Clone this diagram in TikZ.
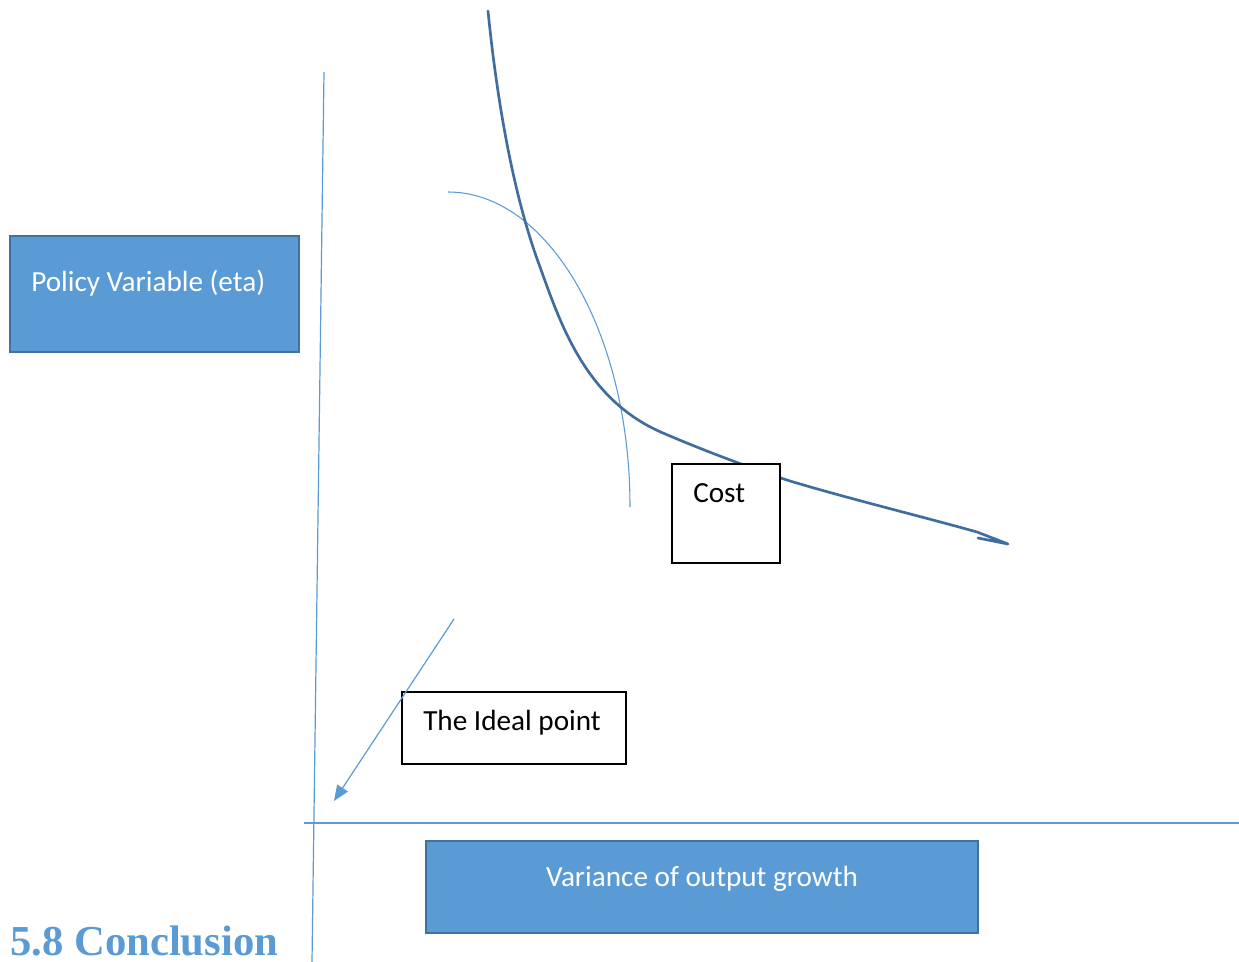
\documentclass[tikz,border=0pt]{standalone}
\usepackage{fontspec}
\setmainfont{Carlito}
\newfontfamily\headfont{Liberation Serif}
\usetikzlibrary{arrows.meta}
\definecolor{lblue}{HTML}{5B9BD5}
\definecolor{dblue}{HTML}{41719C}
\definecolor{cblue}{HTML}{3F6E9E}
\begin{document}
\begin{tikzpicture}[x=0.75pt,y=-0.75pt,
  axisline/.style={draw=lblue,line width=0.9pt},
  bluebox/.style={draw=dblue,fill=lblue,line width=1.6pt,inner sep=0pt},
  whitebox/.style={draw=black,fill=white,line width=1pt,inner sep=0pt},
  boxtext/.style={font=\fontsize{21.9}{26}\selectfont,inner sep=0pt},
  costcurve/.style={draw=cblue,line width=2pt,line cap=round,line join=round},
  thinarc/.style={draw=lblue,line width=0.8pt}]
\useasboundingbox (0,0) rectangle (1239,962);
\fill[white] (0,0) rectangle (1239,962);
% axes
\coordinate (vtop) at (324,72);
\coordinate (vbot) at (312,962);
\coordinate (hleft) at (304,823);
\coordinate (hright) at (1239,823);
\draw[axisline] (vtop) -- (vbot);
\draw[axisline] (hleft) -- (hright);
% thin elliptical arc
\coordinate (arcstart) at (448,192);
\draw[thinarc] (arcstart) arc[start angle=90,end angle=0,x radius=136.5pt,y radius=236.25pt];
% cost curve
\coordinate (c0) at (488,11);
\coordinate (c1) at (540,267);
\coordinate (c2) at (663,433);
\coordinate (c3) at (790,481);
\coordinate (c4) at (977,532);
\coordinate (c5) at (1008,544);
\coordinate (c6) at (978,538);
\draw[costcurve] (c0) .. controls (498,110) and (515,200) .. (c1)
  .. controls (560,322) and (585,400) .. (c2)
  .. controls (700,449) and (750,468) .. (c3)
  .. controls (850,499) and (920,516) .. (c4) -- (c5) -- (c6);
% boxes
\node[bluebox,minimum width=216.75pt,minimum height=87pt] (policy) at (154.5,294) {};
\node[boxtext,text=white,anchor=base west] (policytext) at (31,292) {Policy Variable (eta)};
\node[bluebox,minimum width=414pt,minimum height=69pt] (variance) at (702,887) {};
\node[boxtext,text=white,anchor=base] (variancetext) at (702,886) {Variance of output growth};
\node[whitebox,minimum width=81pt,minimum height=74.25pt] (cost) at (726,513.5) {};
\node[boxtext,anchor=base west] (costtext) at (693,503) {Cost};
\node[whitebox,minimum width=168pt,minimum height=54pt] (ideal) at (514,728) {};
\node[boxtext,anchor=base west] (idealtext) at (423,730) {The Ideal point};
% arrow
\coordinate (arrstart) at (454,619);
\coordinate (arrend) at (334,801);
\draw[draw=lblue,line width=0.9pt,-{Triangle[length=11.7pt,width=9.5pt]}] (arrstart) -- (arrend);
% heading
\node[anchor=base west,inner sep=0pt,text=lblue,font=\headfont\bfseries\fontsize{32}{36}\selectfont] (heading) at (10,955) {5.8 Conclusion};
\end{tikzpicture}
\end{document}
